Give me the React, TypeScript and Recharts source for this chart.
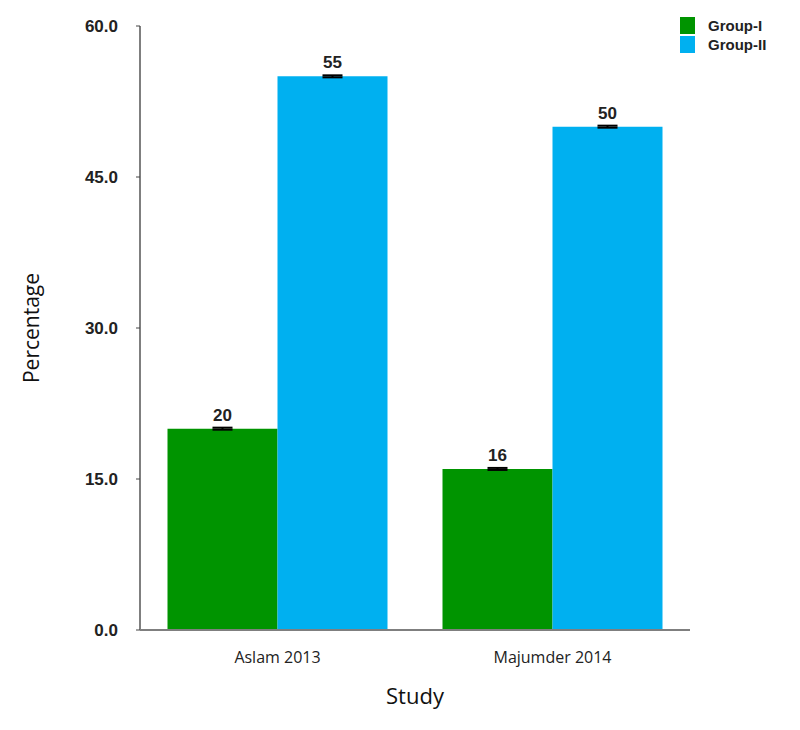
import { BarChart, Bar, XAxis, YAxis, ErrorBar, LabelList } from "recharts";

const studies = ["Aslam 2013", "Majumder 2014"];
const groupI = [20, 16];
const groupII = [55, 50];
const groupIErr = [0.1, 0.1];
const groupIIErr = [0.1, 0.1];
const yTicks = [0, 15, 30, 45, 60];

const colors = {
  green: "#009400",
  blue: "#00B0F0",
  axis: "#7f7f7f",
};

const data = studies.map((s, i) => ({
  study: s,
  g1: groupI[i],
  g2: groupII[i],
  e1: groupIErr[i],
  e2: groupIIErr[i],
}));

const valueStyle = {
  fontFamily: "Liberation Sans, Arial, sans-serif",
  fontWeight: "bold",
  fontSize: 17,
  fill: "#222",
};

const LegendBox = () => (
  <div
    style={{
      position: "absolute",
      left: 680,
      top: 16,
      fontFamily: "Liberation Sans, Arial, sans-serif",
      fontWeight: "bold",
      fontSize: 15,
      color: "#222",
    }}
  >
    {[
      { name: "Group-I", color: colors.green },
      { name: "Group-II", color: colors.blue },
    ].map((it) => (
      <div key={it.name} style={{ display: "flex", alignItems: "center", height: 19 }}>
        <span style={{ width: 15, height: 17, background: it.color, display: "inline-block", marginRight: 13 }} />
        {it.name}
      </div>
    ))}
  </div>
);

export default function App() {
  return (
    <div style={{ position: "absolute", left: 0, top: 0, width: 800, height: 730, background: "#fff" }}>
      <BarChart
        width={800}
        height={730}
        data={data}
        margin={{ top: 26, right: 110, bottom: 70, left: 0 }}
        barCategoryGap="10%"
        barGap={0}
      >
        <XAxis
          dataKey="study"
          height={30}
          tickLine={false}
          axisLine={{ stroke: colors.axis, strokeWidth: 2 }}
          tick={{ fontFamily: "Open Sans, sans-serif", fontSize: 16, fill: "#222" }}
          tickMargin={16}
          label={{
            value: "Study",
            position: "bottom",
            offset: 28,
            style: { fontFamily: "Open Sans, sans-serif", fontSize: 22, fill: "#111" },
          }}
        />
        <YAxis
          width={140}
          domain={[0, 60]}
          ticks={yTicks}
          tickFormatter={(v: number) => v.toFixed(1)}
          tickSize={4}
          tickMargin={18}
          tickLine={{ stroke: "#444" }}
          axisLine={{ stroke: colors.axis, strokeWidth: 2 }}
          tick={{ fontFamily: "Liberation Sans, Arial, sans-serif", fontWeight: "bold", fontSize: 17, fill: "#222" }}
          label={{
            value: "Percentage",
            angle: -90,
            position: "insideLeft",
            offset: 32,
            style: { textAnchor: "middle", fontFamily: "Open Sans, sans-serif", fontSize: 21, fill: "#111" },
          }}
        />
        <Bar dataKey="g1" name="Group-I" fill={colors.green} isAnimationActive={false}>
          <ErrorBar dataKey="e1" width={10} stroke="#000" strokeWidth={2} direction="y" />
          <LabelList dataKey="g1" position="top" offset={8} style={valueStyle} />
        </Bar>
        <Bar dataKey="g2" name="Group-II" fill={colors.blue} isAnimationActive={false}>
          <ErrorBar dataKey="e2" width={10} stroke="#000" strokeWidth={2} direction="y" />
          <LabelList dataKey="g2" position="top" offset={8} style={valueStyle} />
        </Bar>
      </BarChart>
      <LegendBox />
    </div>
  );
}
